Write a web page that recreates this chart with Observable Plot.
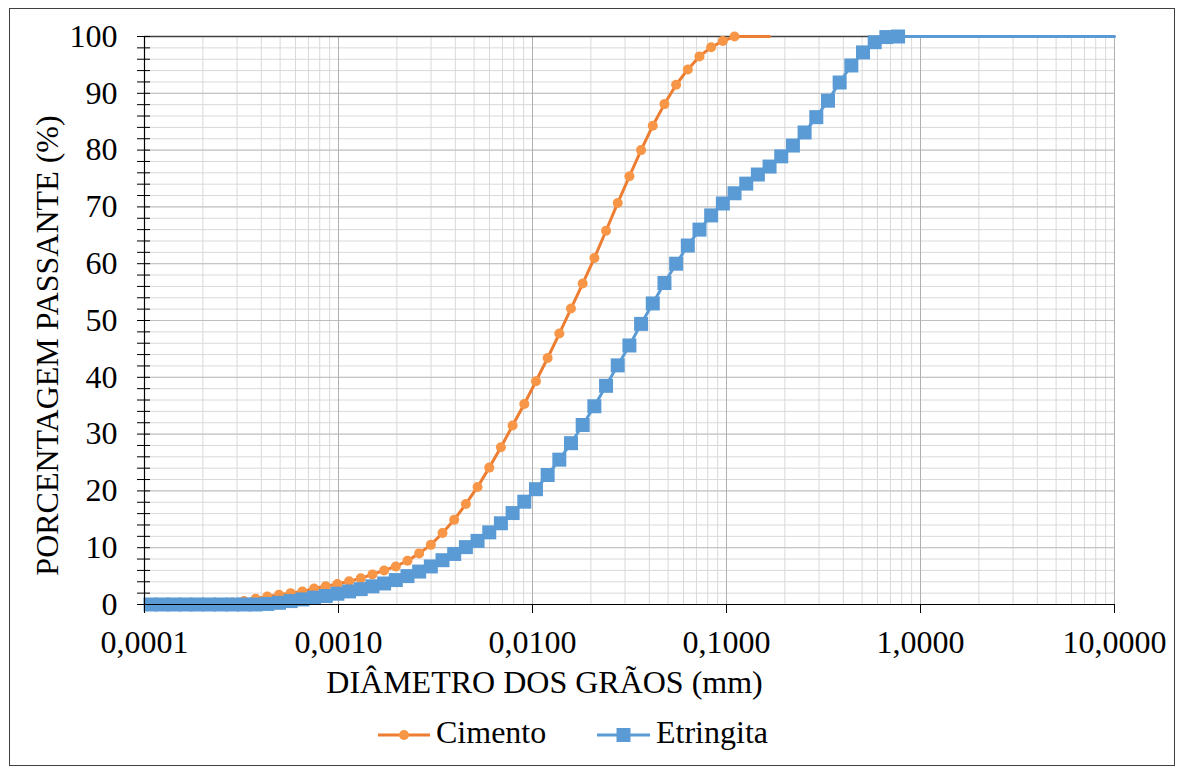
<!DOCTYPE html>
<html>
<head>
<meta charset="utf-8">
<script src="https://cdn.jsdelivr.net/npm/d3@7"></script>
<script src="https://cdn.jsdelivr.net/npm/@observablehq/plot@0.6"></script>
<style>
  body { margin: 0; background: #fff; font-family: "Liberation Serif", "Times New Roman", serif; }
  #wrap { position: relative; width: 1184px; height: 774px; overflow: hidden; background: #fff; }
  #border { position: absolute; left: 9px; top: 8px; width: 1166px; height: 758px; border: 1px solid #404040; box-sizing: border-box; }
  #chart { position: absolute; left: 0; top: 0; }
  .lg-sw { position: absolute; top: 725px; }
  .lg-tx { position: absolute; top: 716px; font-size: 32px; line-height: 32px; color: #000; white-space: nowrap; }
</style>
</head>
<body>
<div id="wrap">
  <div id="border"></div>
  <div id="chart"></div>
  <svg class="lg-sw" style="left:378px" width="54" height="20">
    <line x1="0" x2="52" y1="10" y2="10" stroke="#ED7D31" stroke-width="3"></line>
    <circle cx="26" cy="10" r="5" fill="#F79646"></circle>
  </svg>
  <span class="lg-tx" style="left:436px">Cimento</span>
  <svg class="lg-sw" style="left:597px" width="54" height="20">
    <line x1="0" x2="53" y1="10" y2="10" stroke="#5B9BD5" stroke-width="3"></line>
    <rect x="19.5" y="3" width="14" height="14" fill="#5B9BD5"></rect>
  </svg>
  <span class="lg-tx" style="left:656px">Etringita</span>
</div>
<script>
// Diâmetro dos grãos (mm) – classes de tamanho
const diametro = [
  0.0001074, 0.0001234, 0.0001417, 0.0001628, 0.0001870, 0.0002148, 0.0002467, 0.0002834, 0.0003256, 0.0003740,
  0.0004296, 0.0004935, 0.0005669, 0.0006512, 0.0007480, 0.0008592, 0.0009870, 0.001134, 0.001302, 0.001496,
  0.001718, 0.001974, 0.002268, 0.002605, 0.002992, 0.003437, 0.003948, 0.004535, 0.005210, 0.005985,
  0.006874, 0.007897, 0.009071, 0.01042, 0.01197, 0.01375, 0.01579, 0.01814, 0.02084, 0.02394,
  0.02750, 0.03159, 0.03628, 0.04168, 0.04788, 0.05500, 0.06318, 0.07257, 0.08336, 0.09576,
  0.1100, 0.1264, 0.1451, 0.1667, 0.1915, 0.2200, 0.2527, 0.2903, 0.3335, 0.3830,
  0.4400, 0.5054, 0.5806, 0.6669, 0.7661
];

// Porcentagem passante (%) – Cimento
const cimento = [
  0, 0, 0, 0, 0.05, 0.1, 0.2, 0.35, 0.6, 1.0,
  1.4, 1.7, 2.0, 2.3, 2.8, 3.2, 3.6, 4.1, 4.6, 5.3,
  6.0, 6.7, 7.7, 9.0, 10.5, 12.6, 14.9, 17.7, 20.7, 24.1,
  27.7, 31.5, 35.3, 39.3, 43.4, 47.7, 52.1, 56.5, 61.0, 65.8,
  70.7, 75.4, 80.0, 84.3, 88.1, 91.5, 94.2, 96.5, 98.1, 99.2,
  100, 100, 100, 100
];

// Porcentagem passante (%) – Etringita
const etringita = [
  0, 0, 0, 0, 0, 0, 0, 0, 0, 0,
  0.1, 0.3, 0.6, 0.9, 1.2, 1.5, 1.9, 2.3, 2.7, 3.2,
  3.7, 4.3, 5.0, 5.8, 6.7, 7.8, 8.9, 10.1, 11.2, 12.7,
  14.3, 16.1, 18.1, 20.3, 22.8, 25.5, 28.4, 31.6, 34.9, 38.5,
  42.1, 45.6, 49.4, 53.0, 56.6, 60.0, 63.2, 66.0, 68.5, 70.6,
  72.4, 74.1, 75.7, 77.1, 78.9, 80.8, 83.1, 85.8, 88.7, 91.9,
  94.9, 97.2, 99.0, 99.9, 100
];
const etringitaFim = { d: 10, p: 100 }; // curva segue em 100 % até 10 mm

const xTicks = [0.0001, 0.001, 0.01, 0.1, 1, 10];
const yTicks = [0, 10, 20, 30, 40, 50, 60, 70, 80, 90, 100];
const yMinor = d3.range(0, 101, 2);
const xMinor = xTicks.slice(0, -1).flatMap(d => [2, 3, 4, 5, 6, 7, 8, 9].map(m => +(d * m).toPrecision(3)));

const serieC = cimento.map((p, i) => ({ d: diametro[i], p }));
const serieE = etringita.map((p, i) => ({ d: diametro[i], p })).concat([etringitaFim]);
const fimC = cimento.indexOf(100);
const fimE = etringita.indexOf(100);
const dotsC = serieC.slice(0, fimC + 1);
const dotsE = serieE.slice(0, fimE + 1);

const fmtX = d => d3.format(".4f")(d).replace(".", ",");
const FONT = 32;

const chart = Plot.plot({
  width: 1184,
  height: 700,
  marginLeft: 144,
  marginRight: 70,
  marginTop: 36,
  marginBottom: 96,
  style: { fontFamily: "'Liberation Serif', 'Times New Roman', serif", background: "transparent", color: "#000" },
  x: { type: "log", domain: [0.0001, 10] },
  y: { domain: [0, 100] },
  marks: [
    Plot.gridX(xMinor, { stroke: "#d9d9d9", strokeOpacity: 1 }),
    Plot.gridY(yMinor, { stroke: "#d9d9d9", strokeOpacity: 1 }),
    Plot.gridY(yTicks, { stroke: "#bfbfbf", strokeOpacity: 1 }),
    Plot.gridX(xTicks, { stroke: "#b0b0b0", strokeOpacity: 1 }),
    Plot.ruleY([100], { stroke: "#404040", strokeWidth: 1.5 }),
    Plot.line(serieC, { x: "d", y: "p", stroke: "#ED7D31", strokeWidth: 3 }),
    Plot.dot(dotsC, { x: "d", y: "p", r: 5, fill: "#F79646", stroke: "none" }),
    Plot.line(serieE, { x: "d", y: "p", stroke: "#5B9BD5", strokeWidth: 3 }),
    Plot.dot(dotsE, { x: "d", y: "p", r: 7.9, symbol: "square", fill: "#5B9BD5", stroke: "none" }),
    Plot.ruleY([0], { stroke: "#000", strokeWidth: 1.2 }),
    Plot.ruleX([0.0001], { stroke: "#000", strokeWidth: 1.2 }),
    Plot.axisY(yMinor, { tickSize: 13, dx: 6, tickFormat: () => "", label: null, stroke: "#000" }),
    Plot.axisY(yTicks, { tickSize: 0, tickPadding: 27, fontSize: FONT, label: null, tickFormat: d => String(d) }),
    Plot.axisX(xTicks, { tickSize: 9, tickPadding: 17, fontSize: FONT, label: null, tickFormat: fmtX, stroke: "#000" }),
    Plot.text(["DIÂMETRO DOS GRÃOS (mm)"], { frameAnchor: "bottom", textAnchor: "middle", lineAnchor: "middle", dx: -85, dy: 78, fontSize: FONT, fill: "#000" }),
    Plot.text(["PORCENTAGEM PASSANTE (%)"], { frameAnchor: "left", textAnchor: "middle", lineAnchor: "middle", dx: -97, dy: 25, rotate: -90, fontSize: FONT, fill: "#000" })
  ]
});
document.getElementById("chart").appendChild(chart);
</script>
</body>
</html>
